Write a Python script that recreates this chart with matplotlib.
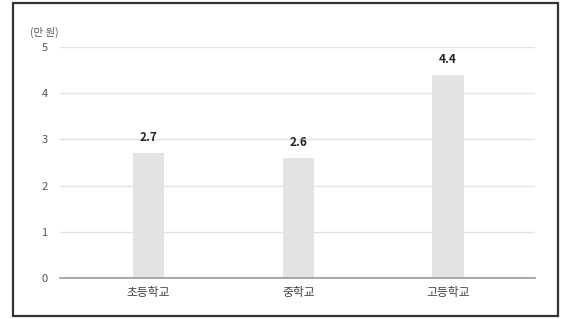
import numpy as np
import matplotlib.pyplot as plt
from matplotlib.patches import Rectangle

plt.rcParams['font.family'] = ['Noto Sans CJK KR', 'DejaVu Sans']

# datos
categorias = ['초등학교', '중학교', '고등학교']
valores = [2.7, 2.6, 4.4]
etiquetas = ['2.7', '2.6', '4.4']
y_ticks = [0, 1, 2, 3, 4, 5]
unidad = '(만 원)'

fig = plt.figure(figsize=(5.62, 3.19), dpi=100)
ax = fig.add_axes([0.107, 0.1285, 0.845, 0.724])

x = np.arange(len(categorias))
ax.bar(x, valores, width=0.21, color='#e3e3e3', zorder=2)

for xi, v, lab in zip(x, valores, etiquetas):
    ax.text(xi, v + 0.2, lab, ha='center', va='bottom', fontsize=8.5,
            fontweight='bold', color='#222222')

ax.set_xlim(-0.59, 2.58)
ax.set_ylim(0, 5)
ax.set_yticks(y_ticks)
ax.set_yticklabels([str(t) for t in y_ticks])
ax.set_xticks(x)
ax.set_xticklabels(categorias)
ax.tick_params(axis='y', length=0, pad=9, labelsize=8, labelcolor='#555555')
ax.tick_params(axis='x', length=0, pad=6, labelsize=8.5, labelcolor='#444444')

ax.yaxis.grid(True, color='#e2e2e2', linewidth=1, zorder=0)
for s in ['top', 'right', 'left']:
    ax.spines[s].set_visible(False)
ax.spines['bottom'].set_color('#999999')
ax.spines['bottom'].set_linewidth(1.2)

fig.text(0.053, 0.897, unidad, fontsize=7.5, color='#555555', ha='left', va='center')

# marco
fig.patches.append(Rectangle((0.024, 0.008), 0.969, 0.982, transform=fig.transFigure,
                             fill=False, edgecolor='#333333', linewidth=1.6))

plt.savefig('out.png', dpi=100)
